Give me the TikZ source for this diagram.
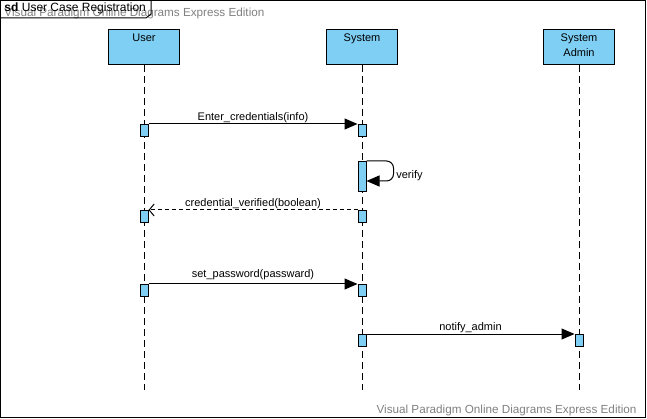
\documentclass[tikz,border=0pt]{standalone}
\usepackage{fontspec}
\setmainfont{Liberation Sans}
\usetikzlibrary{arrows.meta,positioning}
\definecolor{lifeblue}{RGB}{127,207,245}
\definecolor{markgray}{RGB}{128,128,128}
\tikzstyle{head}=[draw, fill=lifeblue, anchor=north west, minimum width=71pt, inner ysep=4pt, text height=8pt, text depth=19pt, align=center, font=\fontsize{11}{15}\selectfont]
\tikzstyle{act}=[draw, fill=lifeblue, anchor=north, minimum width=8pt, minimum height=12pt, inner sep=0pt]
\tikzstyle{lifeline}=[dash pattern=on 7pt off 4pt]
\tikzstyle{msg}=[->, font=\fontsize{11}{13}\selectfont]
\tikzstyle{reply}=[-{Straight Barb[length=5pt,width=12pt]}, dash pattern=on 4pt off 3pt, font=\fontsize{11}{13}\selectfont]
\tikzstyle{watermark}=[inner sep=0pt, text=markgray, font=\fontsize{11.7}{14}\selectfont]

\begin{document}
\begin{tikzpicture}[x=1pt,y=-1pt,line width=1pt,>={Triangle[length=13pt,width=11pt]}]
        \useasboundingbox (0,0) rectangle (647,419);
        \draw (0.5,0.5) rectangle (645.5,417.5);
        % watermarks
        \node [watermark, anchor=base west] (wmtop) at (4,17) {Visual Paradigm Online Diagrams Express Edition};
        \node [watermark, anchor=base east] (wmbot) at (637,413) {Visual Paradigm Online Diagrams Express Edition};
        % frame tab
        \draw (0.5,18) -- (146,18) -- (151,14) -- (151,0.5);
        \node [anchor=base west, inner sep=0pt, font=\fontsize{12}{14}\selectfont] (title) at (4,12) {\textbf{sd} User Case Registration};

        \node [head] (user) at (108,29) {User};
        \node [head] (sys) [right=146pt of user] {System};
        \node [head, text height=23pt, text depth=4pt] (adm) [right=145pt of sys] {System\\Admin};

        \coordinate (userend) at (user.south |- 0,390);
        \coordinate (sysend) at (sys.south |- 0,390);
        \coordinate (admend) at (adm.south |- 0,390);
        \draw [lifeline] (user.south) -- (userend);
        \draw [lifeline] (sys.south) -- (sysend);
        \draw [lifeline] (adm.south) -- (admend);

        \node [act] (u1) at (user.south |- 0,124) {};
        \node [act] (s1) at (sys.south |- 0,124) {};
        \node [act, minimum height=30pt] (s2) at (sys.south |- 0,161) {};
        \node [act] (u2) at (user.south |- 0,210) {};
        \node [act] (s3) at (sys.south |- 0,210) {};
        \node [act] (u3) at (user.south |- 0,284) {};
        \node [act] (s4) at (sys.south |- 0,284) {};
        \node [act] (s5) at (sys.south |- 0,334) {};
        \node [act] (a1) at (adm.south |- 0,334) {};

        \path [msg] (u1.north east) edge node [above, inner sep=1pt] {Enter\_credentials(info)} (s1.north west);
        \draw [msg, rounded corners=7pt] (s2.north east) -- ++(27,0) -- ++(0,20) -- ([yshift=-20pt]s2.north east);
        \node [anchor=west, font=\fontsize{11}{13}\selectfont] (verify) at ([xshift=26pt,yshift=-15pt]s2.north east) {verify};
        \path [reply] (s3.north west) edge node [above, inner sep=1pt] {credential\_verified(boolean)} (u2.north east);
        \path [msg] (u3.north east) edge node [above] {set\_password(passward)} (s4.north west);
        \path [msg] (s5.north east) edge node [above, inner sep=1pt] {notify\_admin} (a1.north west);
\end{tikzpicture}
\end{document}
